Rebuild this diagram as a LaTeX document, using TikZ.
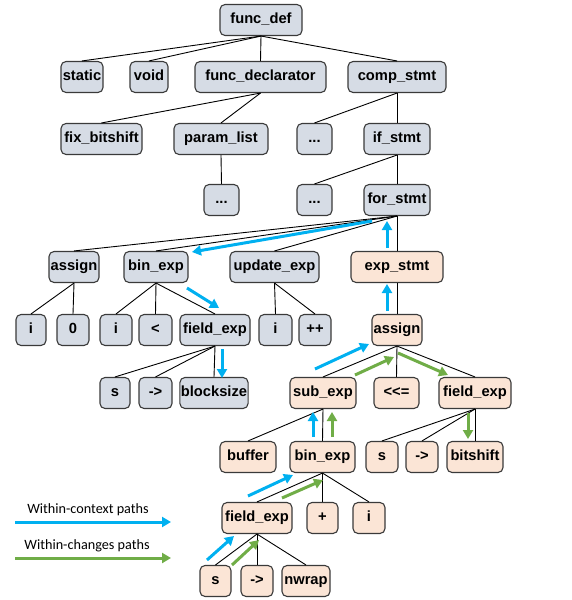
\documentclass[tikz,border=0pt]{standalone}
\usepackage{fontspec}
\setmainfont[Ligatures=NoCommon]{Liberation Sans}
\newfontfamily\legendfont{Carlito}
\usetikzlibrary{arrows.meta}
\definecolor{gfill}{HTML}{D6DCE5}
\definecolor{pfill}{HTML}{FBE5D6}
\definecolor{bord}{HTML}{3A3A3A}
\definecolor{ctxc}{HTML}{00B0F0}
\definecolor{chgc}{HTML}{70AD47}
\begin{document}
\begin{tikzpicture}[x=1pt,y=-1pt,
  nd/.style={draw=bord, line width=1.1pt, rounded corners=5pt, inner sep=1pt,
    minimum height=31pt, font=\bfseries\fontsize{14.7}{16}\selectfont,
    text height=10.5pt, text depth=3pt},
  gbox/.style={nd, fill=gfill},
  pbox/.style={nd, fill=pfill},
  edge/.style={draw=black, line width=0.9pt},
  ctxarr/.style={draw=ctxc, line width=3pt, -{Triangle[length=9pt,width=10pt]}},
  chgarr/.style={draw=chgc, line width=3pt, -{Triangle[length=9pt,width=10pt]}},
  lgd/.style={font=\legendfont\fontsize{14.2}{16}\selectfont, inner sep=0pt}
]
\useasboundingbox (0,0) rectangle (571,600);
% row 1
\node[gbox, minimum width=82pt] (fd) at (261,20) {func\_def};
% row 2
\node[gbox, minimum width=42pt] (static) at (82,77) {static};
\node[gbox, minimum width=38pt] (void) at (149,77) {void};
\node[gbox, minimum width=131pt] (fdecl) at (260.5,77) {func\_declarator};
\node[gbox, minimum width=98pt] (comp) at (397,77) {comp\_stmt};
% row 3
\node[gbox, minimum width=81pt] (fix) at (101.5,139) {fix\_bitshift};
\node[gbox, minimum width=94pt] (param) at (221,139) {param\_list};
\node[gbox, minimum width=35pt] (dotsa) at (314.5,139) {...};
\node[gbox, minimum width=66pt] (ifs) at (397,139) {if\_stmt};
% row 4
\node[gbox, minimum width=35pt] (dotsb) at (221.5,200) {...};
\node[gbox, minimum width=35pt] (dotsc) at (314.5,200) {...};
\node[gbox, minimum width=66pt] (fors) at (397,200) {for\_stmt};
% row 5
\node[gbox, minimum width=50pt] (asga) at (74,267) {assign};
\node[gbox, minimum width=64pt] (bina) at (156,267) {bin\_exp};
\node[gbox, minimum width=89pt] (upd) at (274.5,267) {update\_exp};
\node[pbox, minimum width=92pt] (exps) at (397,267) {exp\_stmt};
% row 6
\node[gbox, minimum width=30pt] (ia) at (31,330) {i};
\node[gbox, minimum width=32pt] (zero) at (73,330) {0};
\node[gbox, minimum width=32pt] (ib) at (116,330) {i};
\node[gbox, minimum width=33pt] (lt) at (155.5,330) {<};
\node[gbox, minimum width=70pt] (fea) at (215,330) {field\_exp};
\node[gbox, minimum width=33pt] (ic) at (275.5,330) {i};
\node[gbox, minimum width=32pt] (pp) at (315,330) {++};
\node[pbox, minimum width=50pt] (asgb) at (397,330) {assign};
% row 7
\node[gbox, minimum width=30pt] (sa) at (115,393) {s};
\node[gbox, minimum width=33pt] (arra) at (155.5,393) {-{}>};
\node[gbox, minimum width=68pt] (bsz) at (214,393) {blocksize};
\node[pbox, minimum width=66pt] (sub) at (323,393) {sub\_exp};
\node[pbox, minimum width=45pt] (shl) at (396.5,393) {<{}<{}=};
\node[pbox, minimum width=72pt] (feb) at (475,393) {field\_exp};
% row 8
\node[pbox, minimum width=56pt] (buf) at (248,457) {buffer};
\node[pbox, minimum width=65pt] (binb) at (322.5,457) {bin\_exp};
\node[pbox, minimum width=32pt] (sb) at (382,457) {s};
\node[pbox, minimum width=32pt] (arrb) at (422,457) {-{}>};
\node[pbox, minimum width=56pt] (bsh) at (475,457) {bitshift};
% row 9
\node[pbox, minimum width=70pt] (fec) at (257,518) {field\_exp};
\node[pbox, minimum width=31pt] (plus) at (322.5,518) {+};
\node[pbox, minimum width=32pt] (id) at (369,518) {i};
% row 10
\node[pbox, minimum width=31pt] (sc) at (215.5,581) {s};
\node[pbox, minimum width=32pt] (arrc) at (257,581) {-{}>};
\node[pbox, minimum width=48pt] (nw) at (306,581) {nwrap};

% edges
\foreach \c in {static,void,fdecl,comp} \draw[edge] (fd.south) -- (\c.north);
\foreach \c in {fix,param} \draw[edge] (fdecl.south) -- (\c.north);
\foreach \c in {dotsa,ifs} \draw[edge] (comp.south) -- (\c.north);
\draw[edge] (param.south) -- (dotsb.north);
\foreach \c in {dotsc,fors} \draw[edge] (ifs.south) -- (\c.north);
\foreach \c in {asga,bina,upd,exps} \draw[edge] (fors.south) -- (\c.north);
\foreach \c in {ia,zero} \draw[edge] (asga.south) -- (\c.north);
\foreach \c in {ib,lt,fea} \draw[edge] (bina.south) -- (\c.north);
\foreach \c in {ic,pp} \draw[edge] (upd.south) -- (\c.north);
\draw[edge] (exps.south) -- (asgb.north);
\foreach \c in {sa,arra,bsz} \draw[edge] (fea.south) -- (\c.north);
\foreach \c in {sub,shl,feb} \draw[edge] (asgb.south) -- (\c.north);
\foreach \c in {buf,binb} \draw[edge] (sub.south) -- (\c.north);
\foreach \c in {sb,arrb,bsh} \draw[edge] (feb.south) -- (\c.north);
\foreach \c in {fec,plus,id} \draw[edge] (binb.south) -- (\c.north);
\foreach \c in {sc,arrc,nw} \draw[edge] (fec.south) -- (\c.north);

% within-context paths
\draw[ctxarr] (372,221) -- (192,252);
\draw[ctxarr] (187,288) -- (219,308);
\draw[ctxarr] (222,349) -- (222,378);
\draw[ctxarr] (387,248) -- (387,221);
\draw[ctxarr] (387,311) -- (387,284);
\draw[ctxarr] (315,369) -- (369,344);
\draw[ctxarr] (313,437) -- (313,412);
\draw[ctxarr] (248,496) -- (293,475);
\draw[ctxarr] (207,560) -- (234,536);
% within-changes paths
\draw[chgarr] (355,375) -- (394,357);
\draw[chgarr] (398,353) -- (448,375);
\draw[chgarr] (332,437) -- (332,412);
\draw[chgarr] (468,413) -- (468,439);
\draw[chgarr] (282,498) -- (323,480);
\draw[chgarr] (232,565) -- (259,540);

% legend
\node[lgd] (lgdctx) at (88,510) {Within-context paths};
\node[lgd] (lgdchg) at (87,546) {Within-changes paths};
\coordinate (lca) at (15,522);
\coordinate (lcb) at (171,522);
\coordinate (lga) at (15,558);
\coordinate (lgb) at (171,558);
\draw[ctxarr] (lca) -- (lcb);
\draw[chgarr] (lga) -- (lgb);
\end{tikzpicture}
\end{document}
